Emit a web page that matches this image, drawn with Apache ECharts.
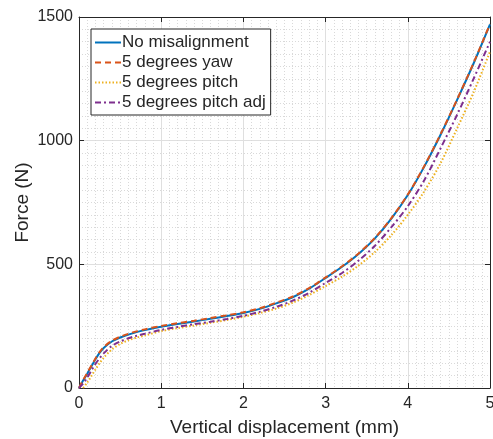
<!DOCTYPE html>
<html>
<head>
<meta charset="utf-8">
<script src="https://cdn.jsdelivr.net/npm/echarts@6/dist/echarts.min.js"></script>
<style>
html,body{margin:0;padding:0;background:#fff;}
#chart{width:493px;height:439px;}
</style>
</head>
<body>
<div id="chart"></div>
<script>
// Data
var xValues = [0, 0.05, 0.1, 0.15, 0.2, 0.25, 0.3, 0.4, 0.5, 0.6, 0.7, 0.8, 1.0, 1.2, 1.4, 1.6, 1.8, 2.0, 2.2, 2.4, 2.6, 2.8, 3.0, 3.2, 3.4, 3.6, 3.8, 4.0, 4.2, 4.4, 4.6, 4.8, 5.0];
var noMisalignment = [0, 30, 58, 87, 116, 142, 162, 188, 204, 216, 226, 234, 248, 259, 269, 280, 291, 303, 320, 342, 367, 402, 445, 490, 542, 605, 685, 780, 895, 1025, 1165, 1312, 1470];
var yaw5 = [0, 32, 61, 90, 119, 145, 165, 191, 207, 219, 229, 237, 251, 262, 272, 283, 294, 306, 323, 345, 370, 404, 447, 492, 544, 607, 687, 782, 897, 1027, 1167, 1314, 1472];
var pitch5 = [null, 0, 22, 48, 75, 100, 122, 156, 178, 193, 204, 212, 230, 242, 253, 264, 275, 288, 303, 321, 345, 376, 412, 450, 495, 550, 618, 700, 795, 910, 1050, 1195, 1360];
var pitch5adj = [0, 18, 42, 70, 97, 120, 140, 170, 188, 201, 211, 219, 235, 247, 258, 268, 279, 292, 308, 328, 353, 385, 425, 465, 515, 575, 650, 735, 840, 970, 1105, 1250, 1400];
var seriesNames = ['No misalignment', '5 degrees yaw', '5 degrees pitch', '5 degrees pitch adj'];
var xTicks = [0, 1, 2, 3, 4, 5];
var yTicks = [0, 500, 1000, 1500];

function pairs(ys) {
  var out = [];
  for (var i = 0; i < xValues.length; i++) {
    if (ys[i] !== null) out.push([xValues[i], ys[i]]);
  }
  return out;
}

var font = 'Liberation Sans, Arial, Helvetica, sans-serif';
var textColor = '#262626';
var axisColor = '#262626';

function makeAxis(pos, show, extra) {
  var a = {
    type: 'value',
    position: pos,
    axisLine: { show: true, onZero: false, lineStyle: { color: axisColor, width: 1 } },
    axisTick: { show: true, inside: true, length: 5, lineStyle: { color: axisColor } },
    axisLabel: { show: show, color: textColor, fontFamily: font, fontSize: 16, formatter: function (v) { return String(v); } },
    splitLine: { show: show, lineStyle: { color: '#dfdfdf', width: 1 } },
    minorTick: { show: false, splitNumber: 10 },
    minorSplitLine: { show: show, lineStyle: { color: '#d9d9d9', width: 1, type: [1, 2] } }
  };
  for (var k in extra) a[k] = extra[k];
  return a;
}

var xBase = { min: xTicks[0], max: xTicks[xTicks.length - 1], interval: xTicks[1] - xTicks[0] };
var yBase = { min: yTicks[0], max: yTicks[yTicks.length - 1], interval: yTicks[1] - yTicks[0] };

var xMain = makeAxis('bottom', true, Object.assign({}, xBase, {
  name: 'Vertical displacement (mm)', nameLocation: 'middle', nameGap: 30, nameMoveOverlap: false,
  nameTextStyle: { color: textColor, fontFamily: font, fontSize: 19 }
}));
xMain.axisLabel.margin = 8;
var xTop = makeAxis('top', false, Object.assign({}, xBase));
var yMain = makeAxis('left', true, Object.assign({}, yBase, {
  name: 'Force (N)', nameLocation: 'middle', nameGap: 47, nameMoveOverlap: false,
  nameTextStyle: { color: textColor, fontFamily: font, fontSize: 19 }
}));
yMain.axisLabel.margin = 6;
var yRight = makeAxis('right', false, Object.assign({}, yBase));

var colors = ['#0072BD', '#D95319', '#EDB120', '#7E2F8E'];
var dashes = ['solid', [6, 4], [1.5, 2], [6, 3, 2, 3]];
var dataSets = [noMisalignment, yaw5, pitch5, pitch5adj];

var series = dataSets.map(function (d, i) {
  return {
    name: seriesNames[i],
    type: 'line',
    xAxisIndex: 0,
    yAxisIndex: 0,
    data: pairs(d),
    smooth: 0.3,
    symbol: 'none',
    showSymbol: false,
    lineStyle: { color: colors[i], width: 2, type: dashes[i] },
    itemStyle: { color: colors[i] },
    z: 2 + i,
    animation: false
  };
});

var chart = echarts.init(document.getElementById('chart'), null, { renderer: 'canvas' });
chart.setOption({
  animation: false,
  backgroundColor: '#ffffff',
  grid: { left: 79, right: 3, top: 17, bottom: 51, containLabel: false, outerBoundsMode: 'none' },
  xAxis: [xMain, xTop],
  yAxis: [yMain, yRight],
  legend: {
    data: seriesNames,
    orient: 'vertical',
    left: 91,
    top: 29,
    itemWidth: 26,
    itemHeight: 10,
    itemGap: 3,
    padding: [5, 5, 4, 3],
    borderColor: '#262626',
    borderWidth: 1,
    backgroundColor: '#ffffff',
    itemStyle: { opacity: 0 },
    textStyle: { color: textColor, fontFamily: font, fontSize: 17, padding: [0, 0, 0, -4] }
  },
  series: series
});
</script>
</body>
</html>
